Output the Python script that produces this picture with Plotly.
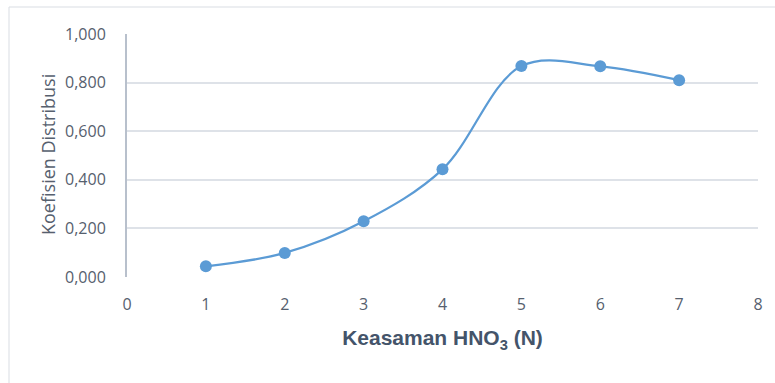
import plotly.graph_objects as go

keasaman = [1, 2, 3, 4, 5, 6, 7]
koefisien = [0.044, 0.099, 0.229, 0.443, 0.868, 0.867, 0.810]
y_ticks = [0, 0.2, 0.4, 0.6, 0.8, 1.0]
y_tick_labels = ["0,000", "0,200", "0,400", "0,600", "0,800", "1,000"]
x_ticks = [0, 1, 2, 3, 4, 5, 6, 7, 8]

BLUE = "#5B9BD5"
GRID = "#DEE2E8"
FRAME = "#D9DDE3"
TXT = "#56606E"

fig = go.Figure()
fig.add_trace(go.Scatter(
    x=keasaman, y=koefisien, mode="lines+markers",
    line=dict(color=BLUE, width=2.25, shape="spline", smoothing=1),
    marker=dict(color=BLUE, size=12),
    showlegend=False, hoverinfo="skip",
))

L, R, T, B = 127, 17, 34, 106
W, H = 775, 383
pw = W - L - R
ph = H - T - B

def px_to_paper_x(px):
    return (px - L) / pw

def px_to_paper_y(py):
    return (H - B - py) / ph

fig.add_shape(type="rect", xref="paper", yref="paper",
              x0=px_to_paper_x(9), x1=px_to_paper_x(790),
              y0=px_to_paper_y(395), y1=px_to_paper_y(7),
              line=dict(color=FRAME, width=1), fillcolor="rgba(0,0,0,0)", layer="below")

fig.add_annotation(text="Koefisien Distribusi", textangle=-90,
                   xref="paper", yref="paper",
                   x=px_to_paper_x(48), y=px_to_paper_y(155),
                   xanchor="center", yanchor="middle", showarrow=False,
                   font=dict(size=18, color=TXT, family="Open Sans, Arial, sans-serif"))

fig.update_layout(
    width=W, height=H,
    margin=dict(l=L, r=R, t=T, b=B),
    paper_bgcolor="white", plot_bgcolor="white",
    font=dict(family="Open Sans, Arial, sans-serif", color=TXT),
    xaxis=dict(
        range=[0, 8], tickvals=x_ticks, ticktext=[str(v) for v in x_ticks],
        showgrid=False, zeroline=False, showline=False,
        tickfont=dict(size=16, color=TXT), ticks="", ticklabelstandoff=16,
        title=dict(text="<b>Keasaman HNO<sub>3</sub> (N)</b>",
                   font=dict(size=21, color="#44546A", family="Liberation Sans, Arial, sans-serif"),
                   standoff=16),
        fixedrange=True,
    ),
    yaxis=dict(
        range=[0, 1.0], tickvals=y_ticks, ticktext=y_tick_labels,
        showgrid=True, gridcolor=GRID, gridwidth=2,
        zeroline=False, showline=True, linecolor="#B8C0CC", linewidth=2,
        tickfont=dict(size=16, color=TXT), ticks="", ticklabelstandoff=16,
        fixedrange=True,
    ),
)

fig.write_html("out.html", config={"displayModeBar": False},
               post_script="document.body.style.margin='0';")
